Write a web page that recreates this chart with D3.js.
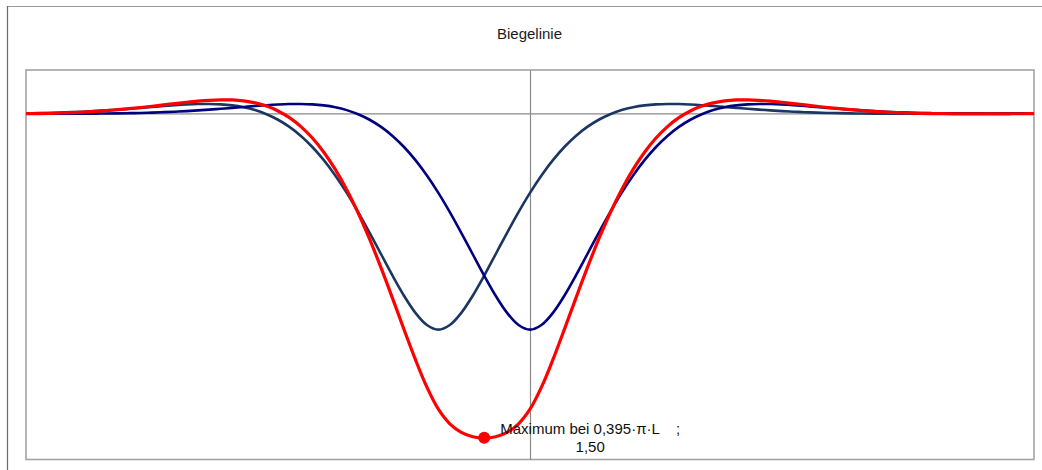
<!DOCTYPE html>
<html><head><meta charset="utf-8">
<script src="https://cdn.jsdelivr.net/npm/d3@7"></script>
<style>
html,body{margin:0;padding:0;background:#fff;overflow:hidden;}
svg{display:block;font-family:"Liberation Sans",Arial,sans-serif;}
</style>
</head><body>
<svg id="chart" width="1042" height="470"></svg>
<script>
const titleText = "Biegelinie";

// x positions in units of L (step 0.155)
const xValues = [
 -6.820,-6.665,-6.510,-6.355,-6.200,-6.045,-5.890,-5.735,-5.580,-5.425,
 -5.270,-5.115,-4.960,-4.805,-4.650,-4.495,-4.340,-4.185,-4.030,-3.875,
 -3.720,-3.565,-3.410,-3.255,-3.100,-2.945,-2.790,-2.635,-2.480,-2.325,
 -2.170,-2.015,-1.860,-1.705,-1.550,-1.395,-1.240,-1.085,-0.930,-0.775,
 -0.620,-0.465,-0.310,-0.155,0.000,
 0.155,0.310,0.465,0.620,0.775,0.930,1.085,1.240,1.395,1.550,
 1.705,1.860,2.015,2.170,2.325,2.480,2.635,2.790,2.945,3.100,
 3.255,3.410,3.565,3.720,3.875,4.030,4.185,4.340,4.495,4.650,
 4.805,4.960,5.115,5.270,5.425,5.580,5.735,5.890,6.045,6.200,
 6.355,6.510,6.665,6.820
];

// deflection of the load at x = 0
const loadCentered = [
 0.0015,0.0017,0.0018,0.0019,0.0019,0.0017,0.0015,0.0011,0.0004,-0.0005,
 -0.0016,-0.0032,-0.0051,-0.0074,-0.0101,-0.0133,-0.0169,-0.0208,-0.0250,-0.0293,
 -0.0335,-0.0374,-0.0406,-0.0427,-0.0431,-0.0413,-0.0365,-0.0279,-0.0146,0.0043,
 0.0299,0.0631,0.1048,0.1558,0.2166,0.2874,0.3677,0.4566,0.5522,0.6515,
 0.7504,0.8431,0.9222,0.9784,1.0000,
 0.9784,0.9222,0.8431,0.7504,0.6515,0.5522,0.4566,0.3677,0.2874,0.2166,
 0.1558,0.1048,0.0631,0.0299,0.0043,-0.0146,-0.0279,-0.0365,-0.0413,-0.0431,
 -0.0427,-0.0406,-0.0374,-0.0335,-0.0293,-0.0250,-0.0208,-0.0169,-0.0133,-0.0101,
 -0.0074,-0.0051,-0.0032,-0.0016,-0.0005,0.0004,0.0011,0.0015,0.0017,0.0019,
 0.0019,0.0018,0.0017,0.0015
];

// deflection of the shifted load
const loadShifted = [
 0.0004,-0.0005,-0.0016,-0.0032,-0.0051,-0.0074,-0.0101,-0.0133,-0.0169,-0.0208,
 -0.0250,-0.0293,-0.0335,-0.0374,-0.0406,-0.0427,-0.0431,-0.0413,-0.0365,-0.0279,
 -0.0146,0.0043,0.0299,0.0631,0.1048,0.1558,0.2166,0.2874,0.3677,0.4566,
 0.5522,0.6515,0.7504,0.8431,0.9222,0.9784,1.0000,
 0.9784,0.9222,0.8431,0.7504,0.6515,0.5522,0.4566,0.3677,0.2874,0.2166,
 0.1558,0.1048,0.0631,0.0299,0.0043,-0.0146,-0.0279,-0.0365,-0.0413,-0.0431,
 -0.0427,-0.0406,-0.0374,-0.0335,-0.0293,-0.0250,-0.0208,-0.0169,-0.0133,-0.0101,
 -0.0074,-0.0051,-0.0032,-0.0016,-0.0005,0.0004,0.0011,0.0015,0.0017,0.0019,
 0.0019,0.0018,0.0017,0.0015,0.0013,0.0011,0.0010,0.0008,0.0006,0.0005,
 0.0004,0.0002
];

// combined deflection
const combined = [
 0.0019,0.0012,0.0002,-0.0013,-0.0032,-0.0057,-0.0086,-0.0122,-0.0165,-0.0213,
 -0.0266,-0.0325,-0.0386,-0.0448,-0.0507,-0.0560,-0.0600,-0.0621,-0.0615,-0.0572,
 -0.0481,-0.0331,-0.0107,0.0204,0.0617,0.1145,0.1801,0.2595,0.3531,0.4609,
 0.5821,0.7146,0.8552,0.9989,1.1388,1.2658,1.3677,1.4350,1.4744,1.4946,
 1.5008,1.4946,1.4744,1.4350,1.3677,1.2658,1.1388,0.9989,0.8552,0.7146,
 0.5821,0.4609,0.3531,0.2595,0.1801,0.1145,0.0617,0.0204,-0.0107,-0.0331,
 -0.0481,-0.0572,-0.0615,-0.0621,-0.0600,-0.0560,-0.0507,-0.0448,-0.0386,-0.0325,
 -0.0266,-0.0213,-0.0165,-0.0122,-0.0086,-0.0057,-0.0032,-0.0013,0.0002,0.0012,
 0.0019,0.0024,0.0026,0.0027,0.0027,0.0025,0.0023,0.0021,0.0017
];

const maxX = [-0.62];
const maxY = [1.50];
const maxLabelLines = ["Maximum bei 0,395\u00B7\u03C0\u00B7L    ;", "1,50"];

const xDomain = [-6.82, 6.82];
const yDomain = [-0.2, 1.6];   // deflection plotted downward

const W = 1042, H = 470;
const plot = {left: 26, top: 70, right: 1034, bottom: 459.5};

const svg = d3.select("#chart");
svg.append("rect").attr("width", W).attr("height", H).attr("fill", "#fff");

// outer chart-area frame (partly cut off)
svg.append("line").attr("x1", 7).attr("x2", W + 5).attr("y1", 6.5).attr("y2", 6.5)
  .attr("stroke", "#9a9a9a").attr("stroke-width", 1);
svg.append("line").attr("x1", 7.5).attr("x2", 7.5).attr("y1", 6).attr("y2", H + 5)
  .attr("stroke", "#6a6a6a").attr("stroke-width", 1.2);

const x = d3.scaleLinear().domain(xDomain).range([plot.left, plot.right]);
const y = d3.scaleLinear().domain(yDomain).range([plot.top, plot.bottom]);

// plot area border
svg.append("rect")
  .attr("x", plot.left).attr("y", plot.top)
  .attr("width", plot.right - plot.left).attr("height", plot.bottom - plot.top)
  .attr("fill", "#fff").attr("stroke", "#a3a3a3").attr("stroke-width", 1.6);

// axes through the origin, no ticks
const gx = svg.append("g").attr("transform", `translate(0,${y(0)})`)
  .call(d3.axisBottom(x).tickValues([]).tickSizeOuter(0));
const gy = svg.append("g").attr("transform", `translate(${x(0)},0)`)
  .call(d3.axisLeft(y).tickValues([]).tickSizeOuter(0));
[gx, gy].forEach(g => g.select(".domain").attr("stroke", "#8a8a8a").attr("stroke-width", 1.2));

// title
svg.append("text").attr("x", 529.5).attr("y", 38.5).attr("text-anchor", "middle")
  .attr("font-size", 15).attr("fill", "#1a1a1a").text(titleText);

const line = d3.line()
  .x((d, i) => x(xValues[i]))
  .y(d => y(d))
  .curve(d3.curveCatmullRom.alpha(0.5));

svg.append("path").datum(loadShifted).attr("d", line)
  .attr("fill", "none").attr("stroke", "#1b3660").attr("stroke-width", 2.6);
svg.append("path").datum(loadCentered).attr("d", line)
  .attr("fill", "none").attr("stroke", "#000080").attr("stroke-width", 2.6);
svg.append("path").datum(combined).attr("d", line)
  .attr("fill", "none").attr("stroke", "#ff0000").attr("stroke-width", 3.2);

// maximum marker
svg.selectAll("circle.max").data(maxX).enter().append("circle")
  .attr("class", "max")
  .attr("cx", (d) => x(d)).attr("cy", (d, i) => y(maxY[i]))
  .attr("r", 6).attr("fill", "#ff0000");

// label
const lx = x(maxX[0]) + 106, ly = y(maxY[0]);
const lab = svg.append("text").attr("text-anchor", "middle").attr("font-size", 15)
  .attr("fill", "#111").style("white-space", "pre");
lab.append("tspan").attr("x", lx).attr("y", ly - 4).text(maxLabelLines[0]);
lab.append("tspan").attr("x", lx).attr("y", ly + 14).text(maxLabelLines[1]);
</script>
</body></html>
